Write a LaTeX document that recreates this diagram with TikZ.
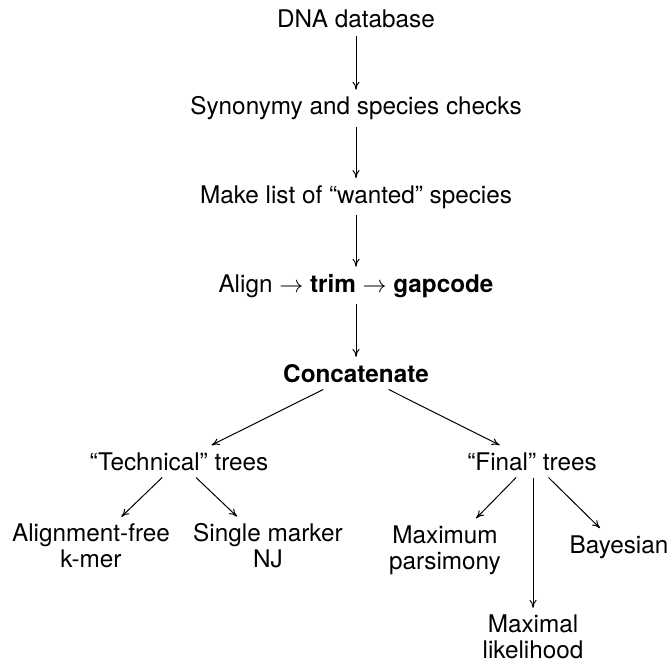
\documentclass[tikz,border=0pt]{standalone}
\usepackage{fontspec}
\setmainfont{TeX Gyre Heros}
\usetikzlibrary{arrows.meta}
\begin{document}
\begin{tikzpicture}[x=0.5pt,y=-0.5pt,line width=0.5pt,
  >={To[length=4pt,width=3.6pt]},
  every node/.style={font=\fontsize{12.15}{13}\selectfont},
  step box/.style={anchor=base},
  leaf/.style={align=center}]
  \useasboundingbox (0,0) rectangle (672,663);
  \node[step box] (dna) at (356,28) {DNA database};
  \node[step box] (syn) at (356,115) {Synonymy and species checks};
  \node[step box] (wanted) at (356,203) {Make list of “wanted” species};
  \node[step box] (align) at (356,292) {Align $\rightarrow$ \textbf{trim} $\rightarrow$ \textbf{gapcode}};
  \node[step box] (concat) at (356,382) {\textbf{Concatenate}};
  \node[step box] (tech) at (179,470) {“Technical” trees};
  \node[step box] (final) at (532,470) {“Final” trees};
  \node[leaf] (kmer) at (91,546) {Alignment-free\\k-mer};
  \node[leaf] (nj) at (268,546) {Single marker\\NJ};
  \node[leaf] (mp) at (445,550) {Maximum\\parsimony};
  \node[leaf] (ml) at (533,637) {Maximal\\likelihood};
  \node[step box] (bayes) at (619,553) {Bayesian};
  \draw[->] (dna) -- (syn);
  \draw[->] (syn) -- (wanted);
  \draw[->] (wanted) -- (align);
  \draw[->] (align) -- (concat);
  \draw[->] (concat) -- (tech);
  \draw[->] (concat) -- (final);
  \draw[->] (tech) -- (kmer);
  \draw[->] (tech) -- (nj);
  \draw[->] (final) -- (mp);
  \draw[->] (final.south -| ml) -- (ml);
  \draw[->] (final) -- (bayes);
\end{tikzpicture}
\end{document}
